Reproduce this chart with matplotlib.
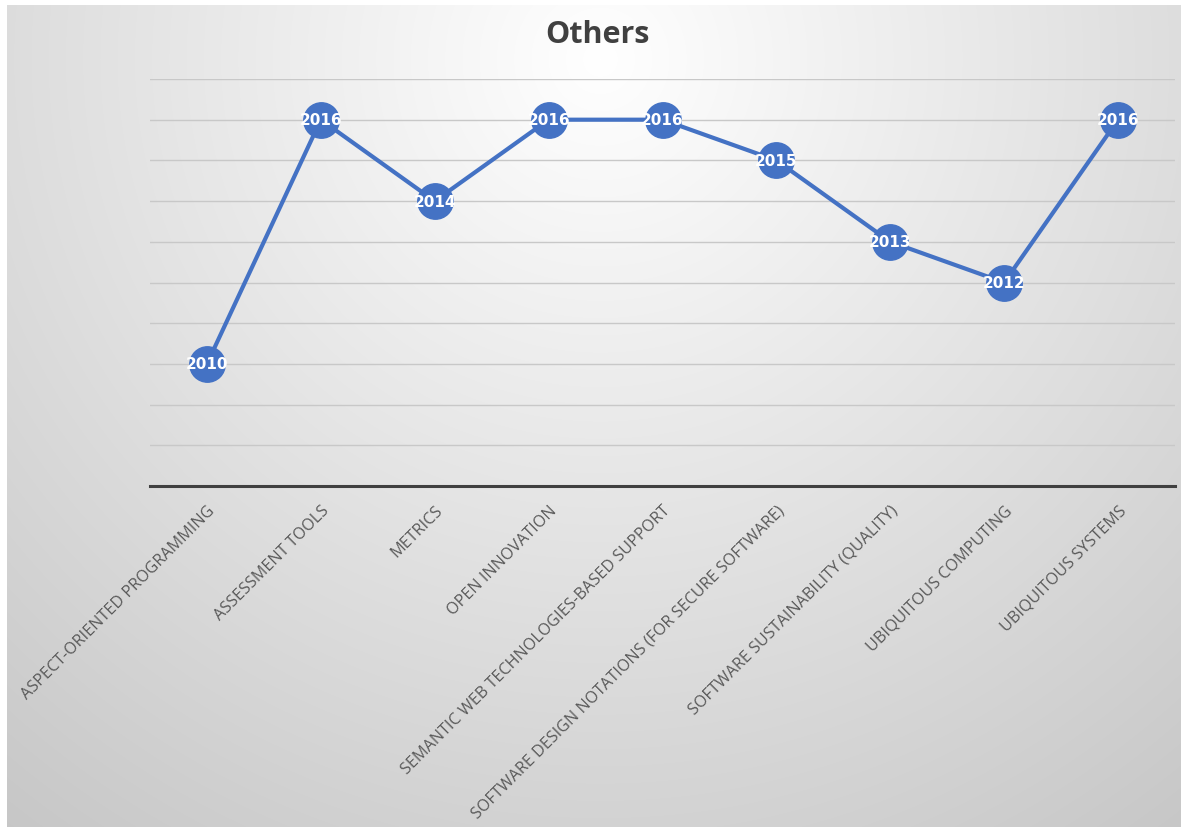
import numpy as np
import matplotlib.pyplot as plt

# Данные
topics = ['ASPECT-ORIENTED PROGRAMMING', 'ASSESSMENT TOOLS', 'METRICS',
          'OPEN INNOVATION', 'SEMANTIC WEB TECHNOLOGIES-BASED SUPPORT',
          'SOFTWARE DESIGN NOTATIONS (FOR SECURE SOFTWARE)',
          'SOFTWARE SUSTAINABILITY (QUALITY)', 'UBIQUITOUS COMPUTING',
          'UBIQUITOUS SYSTEMS']
years = [2010, 2016, 2014, 2016, 2016, 2015, 2013, 2012, 2016]

W, H = 1183, 828
fig = plt.figure(figsize=(W / 100, H / 100), dpi=100, facecolor='#c6c6c6')

# Радиальный градиентный фон
yy, xx = np.mgrid[0:H, 0:W]
r = np.hypot(xx - 600, yy - 60)
shade = np.clip(255 - 0.058 * r, 0, 255) / 255.0
bg = np.dstack([shade, shade, shade])
bg[:, :7] = 1.0
bg[:6, :] = 1.0
bg[:, W - 2:] = 1.0
bg_ax = fig.add_axes([0, 0, 1, 1], zorder=0)
bg_ax.imshow(bg, aspect='auto', interpolation='nearest', extent=(0, W, H, 0))
bg_ax.set_xlim(0, W)
bg_ax.set_ylim(H, 0)
bg_ax.axis('off')

ax = fig.add_axes([150 / W, 1 - 487 / H, 1025 / W, 407 / H], zorder=1)
ax.patch.set_alpha(0)

x = np.arange(len(topics))
ax.plot(x, years, color='#4472C4', lw=3, marker='o', markersize=25.5,
        markerfacecolor='#4472C4', markeredgecolor='#4472C4', zorder=3)

for xi, yv in zip(x, years):
    ax.text(xi, yv, str(yv), ha='center', va='center', color='white',
            fontsize=11, fontweight='bold', family=['Liberation Sans Narrow', 'DejaVu Sans'],
            zorder=4)

ax.set_xlim(-0.5, len(topics) - 0.5)
ax.set_ylim(2007, 2017)
ax.set_yticks(np.arange(2007, 2018))
ax.yaxis.grid(True, color='#c8c8c8', lw=1.0)
ax.set_axisbelow(True)
ax.tick_params(axis='y', left=False, labelleft=False)
ax.tick_params(axis='x', bottom=False, pad=8)

for s in ['top', 'right', 'left']:
    ax.spines[s].set_visible(False)
ax.spines['bottom'].set_color('#404040')
ax.spines['bottom'].set_linewidth(2.2)

ax.set_xticks(x)
ax.set_xticklabels(topics, rotation=45, ha='right', rotation_mode='anchor',
                   fontsize=11.6, color='#595959', family='Open Sans')

fig.text(0.505, 0.958, 'Others', ha='center', va='center', fontsize=22,
         fontweight='bold', color='#404040', family='Open Sans')

fig.savefig('out.png', dpi=100, facecolor=fig.get_facecolor())
